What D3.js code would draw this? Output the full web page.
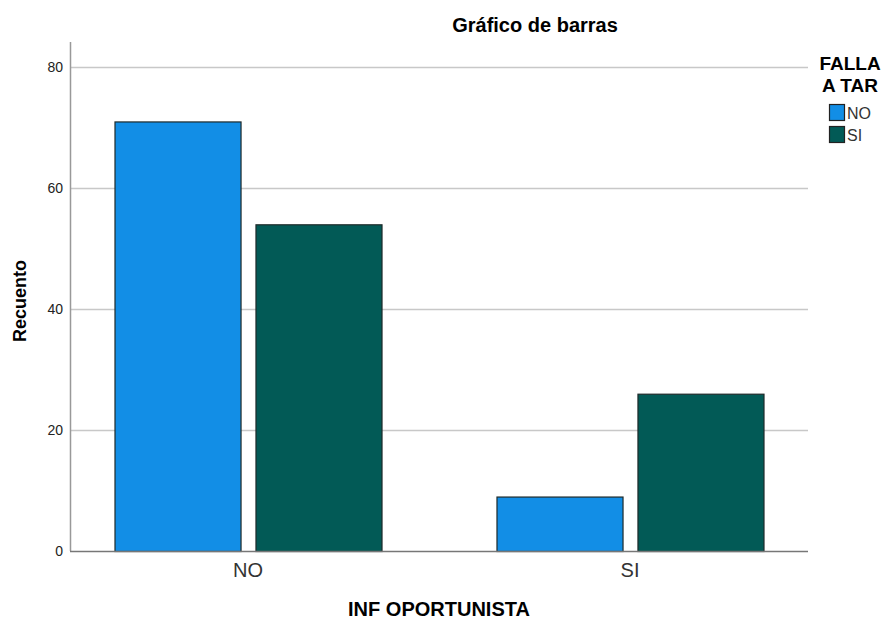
<!DOCTYPE html>
<html lang="es">
<head>
    <meta charset="UTF-8">
    <title>Gráfico de barras</title>
    <script src="https://cdn.jsdelivr.net/npm/d3@7"></script>
    <style>
        html, body {
            margin: 0;
            padding: 0;
            background: #ffffff;
            overflow: hidden;
        }
        text {
            font-family: "Liberation Sans", Arial, sans-serif;
        }
    </style>
</head>
<body>
</body>
<script>
    // datos
    const categories = ['NO', 'SI'];
    const series = ['NO', 'SI'];
    const valuesNO = [71, 9];
    const valuesSI = [54, 26];
    const yTicks = [0, 20, 40, 60, 80];
    const colors = ['#128ee6', '#025a56'];

    const width = 887;
    const height = 621;
    const plotLeft = 70, plotRight = 808, plotTop = 42, plotBottom = 551;

    const svg = d3.select('body')
        .append('svg')
        .attr('width', width)
        .attr('height', height);

    // escalas
    const x = d3.scaleBand()
        .domain(categories)
        .range([plotLeft, plotRight])
        .paddingInner(0.301)
        .paddingOuter(0.1165);

    const xSub = d3.scaleBand()
        .domain(series)
        .range([0, x.bandwidth()])
        .paddingInner(0.106);

    const y = d3.scaleLinear()
        .domain([0, 80])
        .range([plotBottom, 67]);

    // líneas de cuadrícula
    svg.append('g')
        .selectAll('line')
        .data(yTicks.filter(d => d > 0))
        .enter().append('line')
        .attr('x1', plotLeft)
        .attr('x2', plotRight)
        .attr('y1', d => Math.round(y(d)) + 0.5)
        .attr('y2', d => Math.round(y(d)) + 0.5)
        .attr('stroke', '#c8c8c8')
        .attr('stroke-width', 1.5);

    // eje y
    const yAxis = svg.append('g')
        .attr('transform', `translate(${plotLeft},0)`)
        .call(d3.axisLeft(y).tickValues(yTicks).tickSize(0).tickPadding(7));
    yAxis.select('.domain').remove();
    yAxis.selectAll('text')
        .style('font-size', '14px')
        .attr('fill', '#222');

    svg.append('line')
        .attr('x1', plotLeft + 0.5).attr('x2', plotLeft + 0.5)
        .attr('y1', plotTop).attr('y2', plotBottom)
        .attr('stroke', '#999')
        .attr('stroke-width', 1.5);

    // barras
    const data = categories.map((c, i) => ({cat: c, vals: [valuesNO[i], valuesSI[i]]}));
    const groups = svg.append('g')
        .selectAll('g')
        .data(data)
        .enter().append('g')
        .attr('transform', d => `translate(${x(d.cat)},0)`);

    groups.selectAll('rect')
        .data(d => d.vals.map((v, j) => ({s: series[j], v: v, j: j})))
        .enter().append('rect')
        .attr('x', d => xSub(d.s) + 0.5)
        .attr('y', d => y(d.v) + 0.5)
        .attr('width', xSub.bandwidth())
        .attr('height', d => y(0) - y(d.v))
        .attr('fill', d => colors[d.j])
        .attr('stroke', '#1e2a2a')
        .attr('stroke-width', 1.2);

    // eje x
    svg.append('line')
        .attr('x1', plotLeft).attr('x2', plotRight)
        .attr('y1', plotBottom + 0.5).attr('y2', plotBottom + 0.5)
        .attr('stroke', '#777')
        .attr('stroke-width', 1.5);

    const xAxis = svg.append('g')
        .attr('transform', `translate(0,${plotBottom})`)
        .call(d3.axisBottom(x).tickSize(0).tickPadding(12));
    xAxis.select('.domain').remove();
    xAxis.selectAll('text')
        .style('font-size', '20px')
        .attr('fill', '#333');

    // títulos
    svg.append('text')
        .attr('x', 535)
        .attr('y', 32)
        .attr('text-anchor', 'middle')
        .style('font-size', '20px')
        .style('font-weight', 'bold')
        .text('Gráfico de barras');

    svg.append('text')
        .attr('x', 439)
        .attr('y', 616)
        .attr('text-anchor', 'middle')
        .style('font-size', '20px')
        .style('font-weight', 'bold')
        .text('INF OPORTUNISTA');

    svg.append('text')
        .attr('transform', 'translate(26,301) rotate(-90)')
        .attr('text-anchor', 'middle')
        .style('font-size', '18px')
        .style('font-weight', 'bold')
        .text('Recuento');

    // leyenda
    const legend = svg.append('g');
    const heading = legend.append('text')
        .attr('text-anchor', 'middle')
        .style('font-size', '19px')
        .style('font-weight', 'bold');
    heading.append('tspan').attr('x', 850).attr('y', 70).text('FALLA');
    heading.append('tspan').attr('x', 850).attr('y', 92).text('A TAR');

    const item = legend.selectAll('.item')
        .data(series)
        .enter().append('g')
        .attr('transform', (d, i) => `translate(829,${104 + i * 22})`);
    item.append('rect')
        .attr('x', 0.5).attr('y', 0.5)
        .attr('width', 15).attr('height', 16)
        .attr('fill', (d, i) => colors[i])
        .attr('stroke', '#222')
        .attr('stroke-width', 1.2);
    item.append('text')
        .attr('x', 18)
        .attr('y', 15)
        .style('font-size', '16px')
        .attr('fill', '#333')
        .text(d => d);
</script>
</html>
